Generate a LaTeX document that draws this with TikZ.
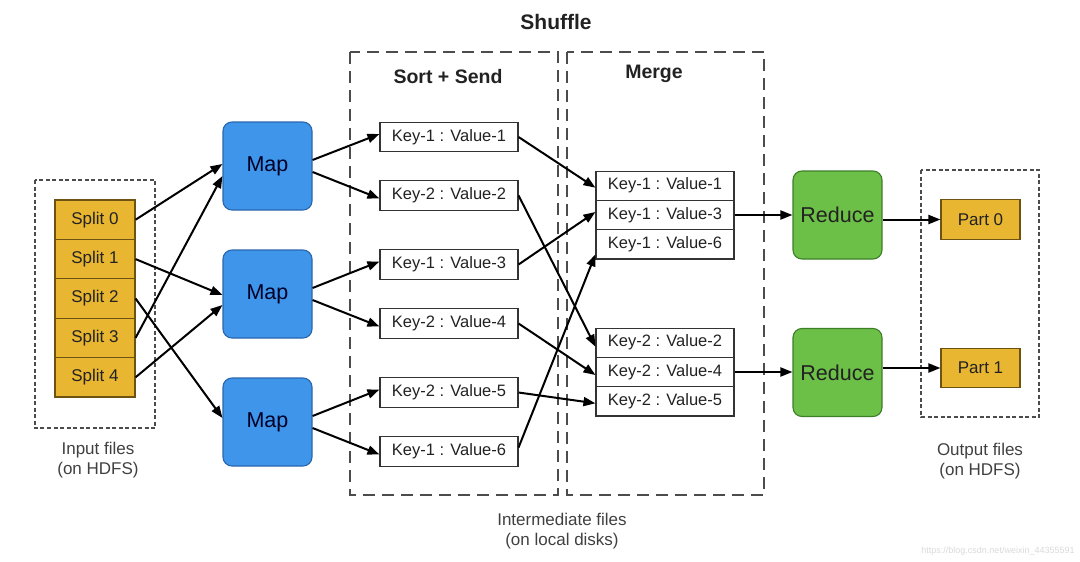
\documentclass[tikz,border=0pt]{standalone}
\usepackage{fontspec}
\setmainfont{Liberation Sans}
\usetikzlibrary{arrows.meta,calc}
\definecolor{gold}{HTML}{E8B631}
\definecolor{goldline}{HTML}{6E5212}
\definecolor{mapblue}{HTML}{3E95EA}
\definecolor{mapline}{HTML}{2A66AE}
\definecolor{redgreen}{HTML}{6DC047}
\definecolor{redline}{HTML}{3C7F28}
\definecolor{txt}{HTML}{222222}
\begin{document}
\begin{tikzpicture}[x=1pt,y=-1pt,
  every node/.style={text=txt, inner sep=0pt},
  split/.style={draw=goldline, fill=gold, line width=1.1pt, minimum width=80pt, minimum height=39.4pt, font=\fontsize{17}{20}\selectfont},
  part/.style={draw=goldline, fill=gold, line width=1.1pt, minimum width=79pt, minimum height=39.5pt, font=\fontsize{17}{20}\selectfont},
  mapbox/.style={draw=mapline, fill=mapblue, line width=1.1pt, rounded corners=9pt, minimum width=89pt, minimum height=88pt, font=\fontsize{21.5}{24}\selectfont, text=black!85!blue},
  redbox/.style={draw=redline, fill=redgreen, line width=1.1pt, rounded corners=9pt, minimum width=89pt, minimum height=88pt, font=\fontsize{21.5}{24}\selectfont},
  kv/.style={draw=black!80, fill=white, line width=1.1pt, minimum width=138pt, minimum height=29.3pt, font=\fontsize{16.5}{20}\selectfont},
  bigdash/.style={draw=black!70, line width=1.2pt, dash pattern=on 12pt off 7pt},
  smalldash/.style={draw=black!70, line width=1.1pt, dash pattern=on 4pt off 2.5pt},
  arr/.style={line width=2pt, -{Triangle[length=12pt,width=9pt]}},
  captext/.style={font=\fontsize{17}{20}\selectfont, align=center, text=black!75}
]
\useasboundingbox (0,0) rectangle (1080,562);

% dashed frames
\draw[smalldash] (35,180) rectangle (155,428);
\draw[smalldash] (921,170) rectangle (1039,417);
\draw[bigdash] (350,52) rectangle (558,495);
\draw[bigdash] (567,52) rectangle (764,495);

% titles
\node[font=\bfseries\fontsize{21}{24}\selectfont] (shuffle) at (556,22) {Shuffle};
\node[font=\bfseries\fontsize{19.5}{22}\selectfont] (sortsend) at (448,77) {Sort + Send};
\node[font=\bfseries\fontsize{19.5}{22}\selectfont] (merge) at (654,74) {Merge};

% splits
\node[split] (s0) at (95,219.7) {Split 0};
\node[split] (s1) at (95,259.1) {Split 1};
\node[split] (s2) at (95,298.5) {Split 2};
\node[split] (s3) at (95,337.9) {Split 3};
\node[split] (s4) at (95,377.3) {Split 4};

% maps
\node[mapbox] (m1) at (267.5,166) {Map};
\node[mapbox] (m2) at (267.5,294) {Map};
\node[mapbox] (m3) at (267.5,422) {Map};

% key-value pairs
\node[kv] (k1) at (449,137) {Key-1 : Value-1};
\node[kv] (k2) at (449,195.5) {Key-2 : Value-2};
\node[kv] (k3) at (449,264.5) {Key-1 : Value-3};
\node[kv] (k4) at (449,323.5) {Key-2 : Value-4};
\node[kv] (k5) at (449,392.5) {Key-2 : Value-5};
\node[kv] (k6) at (449,451.5) {Key-1 : Value-6};

% merged
\node[kv] (g11) at (665,185.7) {Key-1 : Value-1};
\node[kv] (g13) at (665,215) {Key-1 : Value-3};
\node[kv] (g16) at (665,244.3) {Key-1 : Value-6};
\node[kv] (g22) at (665,342.7) {Key-2 : Value-2};
\node[kv] (g24) at (665,372) {Key-2 : Value-4};
\node[kv] (g25) at (665,401.3) {Key-2 : Value-5};

% reduce
\node[redbox] (r1) at (837.5,215) {Reduce};
\node[redbox] (r2) at (837.5,372.5) {Reduce};

% parts
\node[part] (p0) at (980.5,219.5) {Part 0};
\node[part] (p1) at (980.5,368) {Part 1};

% captions
\node[captext] (incap) at (98,460) {Input files\\(on HDFS)};
\node[captext] (outcap) at (980,461) {Output files\\(on HDFS)};
\node[captext] (midcap) at (562,531) {Intermediate files\\(on local disks)};
\node[font=\fontsize{9}{10}\selectfont, text=black!15] (wm) at (998,551) {https://blog.csdn.net/weixin\_44355591};

% split -> map
\draw[arr] (s0.east) -- ($(m1.west)+(0,-2)$);
\draw[arr] (s3.east) -- ($(m1.west)+(0,10)$);
\draw[arr] (s1.east) -- ($(m2.west)+(0,1)$);
\draw[arr] (s4.east) -- ($(m2.west)+(0,11)$);
\draw[arr] (s2.east) -- ($(m3.west)+(0,-4)$);

% map -> kv
\draw[arr] ($(m1.east)+(0,-6)$) -- ($(k1.west)+(0,-3)$);
\draw[arr] ($(m1.east)+(0,6)$) -- ($(k2.west)+(0,3)$);
\draw[arr] ($(m2.east)+(0,-6)$) -- ($(k3.west)+(0,-3)$);
\draw[arr] ($(m2.east)+(0,6)$) -- ($(k4.west)+(0,3)$);
\draw[arr] ($(m3.east)+(0,-6)$) -- ($(k5.west)+(0,-3)$);
\draw[arr] ($(m3.east)+(0,6)$) -- ($(k6.west)+(0,3)$);

% kv -> merge
\draw[arr] (k1.east) -- ($(g11.west)+(0,2)$);
\draw[arr] (k2.east) -- ($(g22.west)+(0,4)$);
\draw[arr] (k3.east) -- ($(g13.west)+(0,-3)$);
\draw[arr] (k4.east) -- ($(g24.west)+(0,3)$);
\draw[arr] (k5.east) -- ($(g25.west)+(0,2)$);
\draw[arr] ($(k6.east)+(0,-4)$) -- ($(g16.west)+(0,10)$);

% merge -> reduce
\draw[arr] (g13.east) -- (r1.west);
\draw[arr] (g24.east) -- (r2.west |- g24.east);

% reduce -> part
\draw[arr] (r1.east |- p0.west) -- (p0.west);
\draw[arr] (r2.east |- p1.west) -- (p1.west);
\end{tikzpicture}
\end{document}
